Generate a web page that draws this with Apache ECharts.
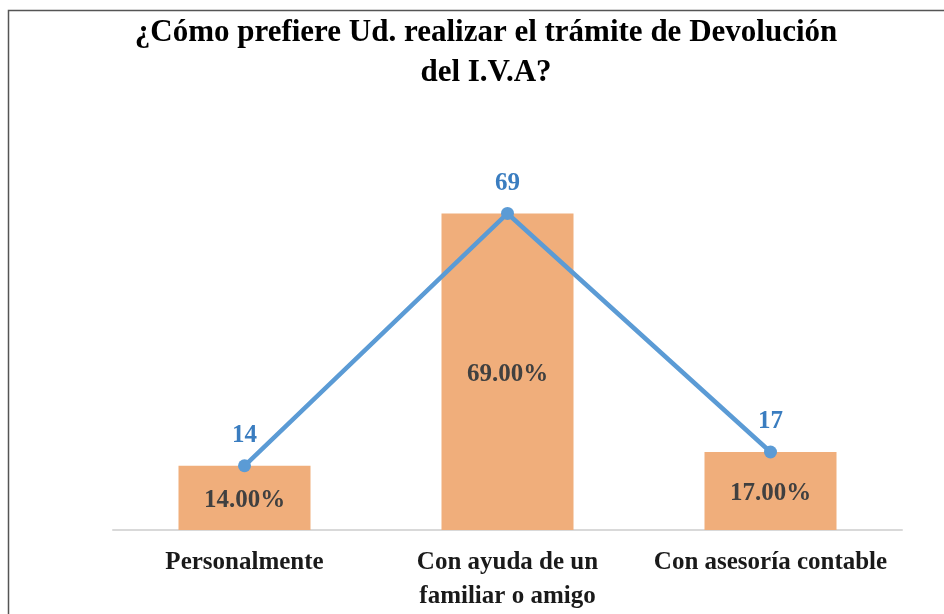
<!DOCTYPE html>
<html>
<head>
<meta charset="utf-8">
<script src="https://cdn.jsdelivr.net/npm/echarts@6/dist/echarts.min.js"></script>
<style>
  html, body { margin: 0; padding: 0; background: #fff; }
  #chart { width: 944px; height: 614px; }
</style>
</head>
<body>
<div id="chart"></div>
<script>
const categories = ["Personalmente", "Con ayuda de un\nfamiliar o amigo", "Con asesoría contable"];
const counts = [14, 69, 17];
const percents = [14, 69, 17];

const serif = "'Liberation Serif', 'DejaVu Serif', serif";

let myChart = echarts.init(document.getElementById("chart"));
let option = {
  animation: false,
  backgroundColor: "#fff",
  title: {
    text: "¿Cómo prefiere Ud. realizar el trámite de Devolución\ndel I.V.A?",
    left: 481,
    top: 8,
    textAlign: "center",
    textStyle: {
      fontFamily: serif,
      fontWeight: "bold",
      fontSize: 31,
      lineHeight: 40,
      color: "#000"
    }
  },
  graphic: [
    {
      type: "rect",
      shape: { x: 8.5, y: 10.5, width: 1000, height: 700 },
      style: { fill: "none", stroke: "#555", lineWidth: 1.5 },
      silent: true
    }
  ],
  grid: {
    left: 113,
    right: 42,
    top: 163,
    bottom: 73
  },
  xAxis: {
    type: "category",
    data: categories,
    axisLine: { lineStyle: { color: "#d9d9d9", width: 2 } },
    axisTick: { show: false },
    axisLabel: {
      interval: 0,
      margin: 16,
      fontFamily: serif,
      fontWeight: "bold",
      fontSize: 25,
      lineHeight: 34,
      color: "#1a1a1a"
    }
  },
  yAxis: {
    type: "value",
    min: 0,
    max: 80,
    show: false,
    splitLine: { show: false }
  },
  series: [
    {
      name: "Porcentaje",
      type: "bar",
      barWidth: 132,
      data: percents,
      itemStyle: { color: "#F0AE7B" },
      label: {
        show: true,
        position: "inside",
        offset: [0, 3],
        formatter: function(p) {
          return p.value.toFixed(2) + "%";
        },
        fontFamily: serif,
        fontWeight: "bold",
        fontSize: 25,
        color: "#404040"
      },
      z: 1
    },
    {
      name: "Frecuencia",
      type: "line",
      data: counts,
      symbol: "circle",
      symbolSize: 13,
      lineStyle: { color: "#5B9BD5", width: 4.5 },
      itemStyle: { color: "#5B9BD5" },
      label: {
        show: true,
        position: "top",
        distance: 11,
        fontFamily: serif,
        fontWeight: "bold",
        fontSize: 25,
        color: "#3A7DC0"
      },
      z: 3
    }
  ]
};
myChart.setOption(option);
</script>
</body>
</html>
